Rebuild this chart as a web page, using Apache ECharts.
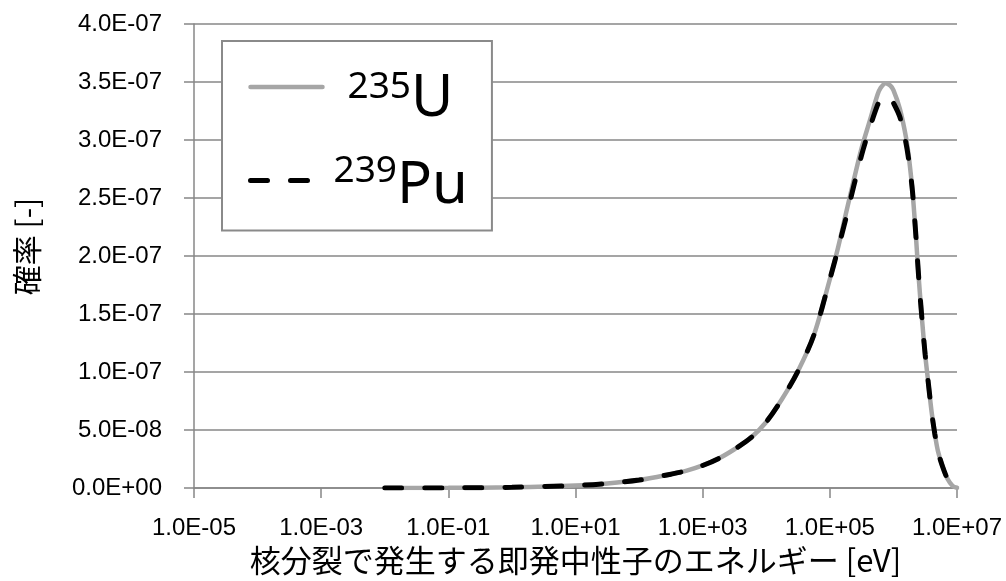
<!DOCTYPE html>
<html>
<head>
<meta charset="utf-8">
<script src="https://cdn.jsdelivr.net/npm/echarts@6/dist/echarts.min.js"></script>
<style>
html,body{margin:0;padding:0;background:#fff;}
#chart{width:1006px;height:581px;}
</style>
</head>
<body>
<div id="chart"></div>
<script>
// Energy grid [eV]
const energy = [0.01, 0.1, 1, 10, 31.6, 100, 316, 562, 1000, 1780, 3160, 5620,
  1e4, 1.78e4, 3.16e4, 5.62e4, 1e5, 1.33e5, 1.78e5, 2.37e5, 3.16e5, 4.22e5,
  5.62e5, 6.31e5, 7.5e5, 8.91e5, 1e6, 1.26e6, 1.58e6, 1.78e6, 2.0e6, 2.24e6,
  2.51e6, 2.82e6, 3.16e6, 3.55e6, 3.98e6, 4.47e6, 5.01e6, 5.89e6, 7.08e6, 8.51e6, 1e7];
// Probability [-], 235U
const u235 = [0, 2e-10, 7e-10, 2.2e-9, 4.0e-9, 6.9e-9, 1.2e-8, 1.5e-8, 1.95e-8, 2.55e-8, 3.35e-8, 4.3e-8,
  5.7e-8, 7.7e-8, 1.01e-7, 1.32e-7, 1.80e-7, 2.06e-7, 2.36e-7, 2.65e-7, 2.93e-7, 3.16e-7,
  3.39e-7, 3.45e-7, 3.49e-7, 3.47e-7, 3.43e-7, 3.27e-7, 3.02e-7, 2.82e-7, 2.55e-7, 2.2e-7,
  1.8e-7, 1.45e-7, 1.15e-7, 9.0e-8, 6.6e-8, 4.7e-8, 3.2e-8, 1.9e-8, 8e-9, 2e-9, 3e-10];
// Probability [-], 239Pu
const pu239 = [0, 2e-10, 7e-10, 2.2e-9, 4.0e-9, 6.9e-9, 1.2e-8, 1.5e-8, 1.95e-8, 2.55e-8, 3.35e-8, 4.3e-8,
  5.7e-8, 7.7e-8, 1.01e-7, 1.32e-7, 1.80e-7, 2.05e-7, 2.32e-7, 2.60e-7, 2.87e-7, 3.10e-7,
  3.30e-7, 3.35e-7, 3.38e-7, 3.36e-7, 3.32e-7, 3.20e-7, 2.97e-7, 2.79e-7, 2.55e-7, 2.2e-7,
  1.8e-7, 1.45e-7, 1.15e-7, 9.0e-8, 6.6e-8, 4.7e-8, 3.2e-8, 1.9e-8, 8e-9, 2e-9, 3e-10];
const seriesNames = ['235U', '239Pu'];
const xTitle = '核分裂で発生する即発中性子のエネルギー [eV]';
const yTitle = '確率 [-]';

function expFmt(v) {
  const s = Number(v).toExponential(1);
  const parts = s.split('e');
  const mant = parts[0];
  let ex = parseInt(parts[1], 10);
  const sign = ex < 0 ? '-' : '+';
  ex = Math.abs(ex);
  return mant + 'E' + sign + (ex < 10 ? '0' + ex : '' + ex);
}

const chart = echarts.init(document.getElementById('chart'), null, {renderer: 'canvas'});
const gridColor = '#878787';
const labelFont = 'Liberation Sans, Arial, sans-serif';
const cjkFont = 'Noto Sans CJK JP';

chart.setOption({
  animation: false,
  backgroundColor: '#ffffff',
  grid: {left: 194, right: 49, top: 24, bottom: 92, containLabel: false},
  graphic: [{
    type: 'text',
    x: 26.5,
    y: 246.5,
    rotation: Math.PI / 2,
    style: {
      text: yTitle,
      fontFamily: cjkFont,
      fontSize: 30,
      fill: '#000',
      align: 'center',
      verticalAlign: 'middle'
    }
  }],
  legend: {
    show: true,
    selectedMode: false,
    orient: 'vertical',
    left: 222,
    top: 41,
    padding: [16, 24, 15, 26],
    itemGap: 22,
    itemWidth: 72,
    itemHeight: 10,
    borderColor: '#8a8a8a',
    borderWidth: 2,
    backgroundColor: '#ffffff',
    itemStyle: {opacity: 0, color: 'rgba(0,0,0,0)', borderWidth: 0},
    lineStyle: {width: 'inherit', type: 'inherit', cap: 'inherit'},
    data: seriesNames,
    formatter: function (name) {
      return name === '235U' ? '{s1|235}{b1|U}' : '{s2|239}{b2|Pu}';
    },
    textStyle: {
      color: '#000',
      fontFamily: 'Noto Sans',
      rich: {
        s1: {fontSize: 37, fontFamily: 'Noto Sans', color: '#000', lineHeight: 40, padding: [11.5, 0, 0, 20], verticalAlign: 'top'},
        b1: {fontSize: 58, fontFamily: 'Noto Sans', color: '#000', lineHeight: 60, padding: [13.5, 0, 0, 0], verticalAlign: 'top'},
        s2: {fontSize: 37, fontFamily: 'Noto Sans', color: '#000', lineHeight: 40, padding: [2, 0, 0, 6], verticalAlign: 'top'},
        b2: {fontSize: 58, fontFamily: 'Noto Sans', color: '#000', lineHeight: 60, padding: [7, 0, 0, 0], verticalAlign: 'top'}
      }
    }
  },
  xAxis: {
    type: 'log',
    logBase: 10,
    min: 1e-5,
    max: 1e7,
    interval: 2,
    name: xTitle,
    nameLocation: 'middle',
    nameGap: 49,
    nameTextStyle: {fontFamily: cjkFont, fontSize: 31, color: '#000'},
    axisLine: {show: true, lineStyle: {color: gridColor, width: 1.5}},
    axisTick: {show: true, length: 10, lineStyle: {color: gridColor, width: 1.5}},
    minorTick: {show: false},
    axisLabel: {
      margin: 28,
      fontFamily: labelFont,
      fontSize: 24,
      color: '#000',
      formatter: function (v) { return expFmt(v); }
    },
    splitLine: {show: false}
  },
  yAxis: {
    type: 'value',
    min: 0,
    max: 4e-7,
    interval: 5e-8,
    axisLine: {show: true, lineStyle: {color: gridColor, width: 1.5}},
    axisTick: {show: true, length: 10, lineStyle: {color: gridColor, width: 1.5}},
    axisLabel: {
      margin: 32,
      fontFamily: labelFont,
      fontSize: 24,
      color: '#000',
      formatter: function (v) { return expFmt(v); }
    },
    splitLine: {show: true, lineStyle: {color: gridColor, width: 1.5}}
  },
  series: [
    {
      name: seriesNames[0],
      type: 'line',
      symbol: 'none',
      smooth: 0.3,
      data: energy.map((e, i) => [e, u235[i]]),
      lineStyle: {color: '#a6a6a6', width: 4.5, cap: 'round'},
      itemStyle: {color: '#a6a6a6'},
      z: 2
    },
    {
      name: seriesNames[1],
      type: 'line',
      symbol: 'none',
      smooth: 0.3,
      data: energy.map((e, i) => [e, pu239[i]]),
      lineStyle: {color: '#000000', width: 5, type: [17, 23], cap: 'round'},
      itemStyle: {color: '#000000'},
      z: 3
    }
  ]
});
</script>
</body>
</html>
